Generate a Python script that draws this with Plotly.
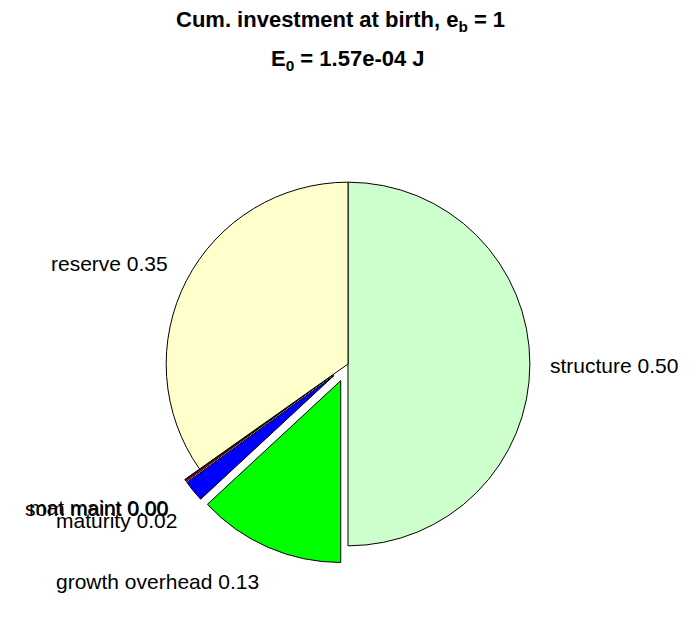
import math
import plotly.graph_objects as go

# Cumulative investment at birth, clockwise from 12 o'clock
labels = ["structure", "growth overhead", "maturity", "som maint", "mat maint", "reserve"]
fractions = [0.500, 0.131, 0.019, 0.0015, 0.0005, 0.348]
exploded = [0, 1, 1, 1, 1, 0]
colors = ["#CCFFCC", "#00FF00", "#0000FF", "#FF0000", "#FF00FF", "#FFFFCC"]

title_line1 = "Cum. investment at birth, e<sub>b</sub> = 1"
title_line2 = "E<sub>0</sub> = 1.57e-04 J"

# page / plot-area geometry in pixels
W, H = 696, 618
M_L, M_T, BOX = 148, 164, 400
PULL = 0.1
LABEL_FONT = dict(family="Liberation Sans, Arial, sans-serif", size=21, color="black")
TITLE_FONT = dict(family="Liberation Sans, Arial, sans-serif", size=22, color="black", weight="bold")

pulls = [PULL if e else 0.0 for e in exploded]
total = sum(fractions)
radius = BOX / 2 / (1 + max(pulls))
cx, cy = M_L + BOX / 2, M_T + BOX / 2


def to_paper(px, py):
    return (px - M_L) / BOX, 1 - (py - M_T) / BOX


# slice labels: placed just outside the rim on each slice's bisector
annotations = []
start = 0.0
for name, v, p in zip(labels, fractions, pulls):
    mid = (start + v / 2) / total * 2 * math.pi
    start += v
    dx, dy = math.sin(mid), -math.cos(mid)
    rr = radius * (1.1 + p)
    x, y = to_paper(cx + rr * dx, cy + rr * dy)
    if dy < -0.05:
        yanchor, yshift = "bottom", -5
    elif dy > 0.05:
        yanchor, yshift = "top", -4
    else:
        yanchor, yshift = "middle", -1
    annotations.append(dict(
        x=x, y=y, xref="paper", yref="paper", showarrow=False,
        text=f"{name} {v:.2f}", font=LABEL_FONT,
        xanchor="left" if dx > 0 else "right", yanchor=yanchor, yshift=yshift,
    ))

# two-line title
for text, px, py in [(title_line1, 340, 21), (title_line2, 348, 60)]:
    x, y = to_paper(px, py)
    annotations.append(dict(
        x=x, y=y, xref="paper", yref="paper", showarrow=False,
        text=text, font=TITLE_FONT, xanchor="center", yanchor="middle",
    ))

fig = go.Figure(go.Pie(
    labels=labels,
    values=fractions,
    sort=False,
    direction="clockwise",
    rotation=0,
    pull=pulls,
    textinfo="none",
    hoverinfo="label+value",
    marker=dict(colors=colors, line=dict(color="black", width=1)),
    domain=dict(x=[0, 1], y=[0, 1]),
    showlegend=False,
))

fig.update_layout(
    width=W, height=H,
    margin=dict(l=M_L, r=W - M_L - BOX, t=M_T, b=H - M_T - BOX),
    paper_bgcolor="white",
    plot_bgcolor="white",
    annotations=annotations,
)

fig.write_html("out.html")
